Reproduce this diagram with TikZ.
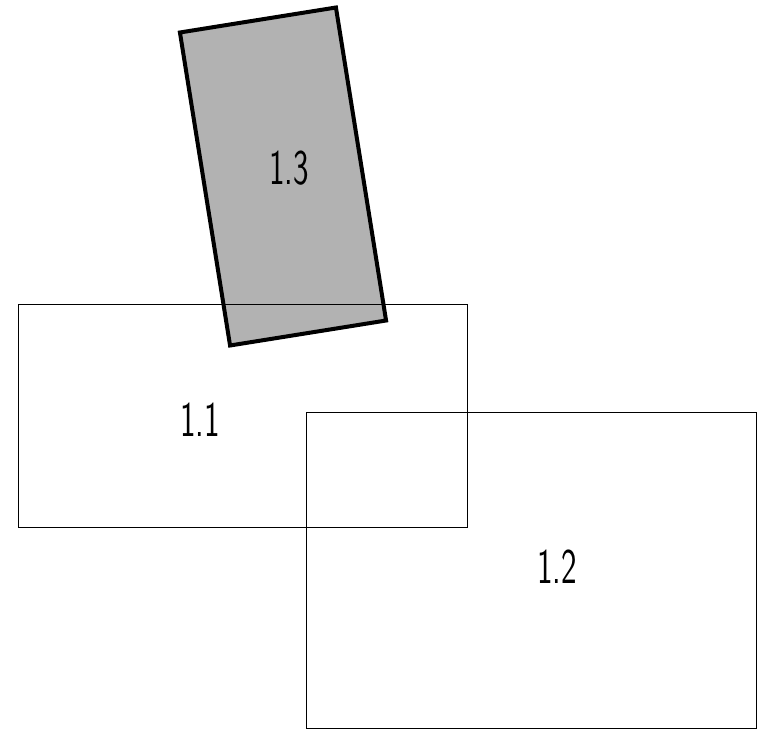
\documentclass[tikz,border=0pt]{standalone}
\usepackage{tikz}
\usetikzlibrary{positioning}
\tikzset{
  zone/.style={draw,line width=0.8pt},
  piece/.style={draw,line width=4pt,fill=black!30,line join=miter,rotate=9.1,minimum width=158pt,minimum height=317pt,inner sep=0pt},
  tag/.style={font=\sffamily\fontsize{50}{50}\selectfont,xscale=0.66,inner sep=0pt},
}
\begin{document}
\begin{tikzpicture}[x=1pt,y=-1pt]
 \useasboundingbox (0,0) rectangle (765,730);
 \node[piece] (p3) at (283,176.5){};
 \draw[zone] (18,304) rectangle (467,527);
 \draw[zone] (306,412) rectangle (756,728);
 \node[tag] (t3) at (289,168){1.3};
 \node[tag] (t1) at (200,420){1.1};
 \node[tag] (t2) at (557,567){1.2};
\end{tikzpicture}
\end{document}
